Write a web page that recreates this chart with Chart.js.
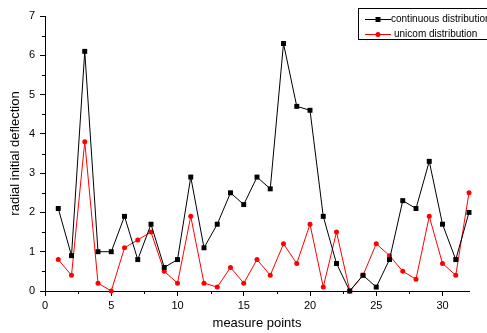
<!DOCTYPE html>
<html>
<head>
<meta charset="utf-8">
<script src="https://cdn.jsdelivr.net/npm/chart.js@4"></script>
<style>
  html, body { margin: 0; padding: 0; background: #fff; }
  canvas { display: block; }
</style>
</head>
<body>
<canvas id="c" width="487" height="333"></canvas>
<script>
const measurePoints = [1,2,3,4,5,6,7,8,9,10,11,12,13,14,15,16,17,18,19,20,21,22,23,24,25,26,27,28,29,30,31,32];
const continuousDistribution = [2.1,0.9,6.1,1.0,1.0,1.9,0.8,1.7,0.6,0.8,2.9,1.1,1.7,2.5,2.2,2.9,2.6,6.3,4.7,4.6,1.9,0.7,0.0,0.4,0.1,0.8,2.3,2.1,3.3,1.7,0.8,2.0];
const unicomDistribution = [0.8,0.4,3.8,0.2,0.0,1.1,1.3,1.5,0.5,0.2,1.9,0.2,0.1,0.6,0.2,0.8,0.4,1.2,0.7,1.7,0.1,1.5,0.0,0.4,1.2,0.9,0.5,0.3,1.9,0.7,0.4,2.5];
const seriesLabels = ["continuous distribution", "unicom distribution"];
const xTitle = "measure points";
const yTitle = "radial initial deflection";

const FONT = '"Liberation Sans", Arial, sans-serif';

function toXY(xs, ys) { return xs.map((x, i) => ({ x: x, y: ys[i] })); }

const minorTicks = {
  id: 'minorTicks',
  afterDraw(chart) {
    const ctx = chart.ctx;
    const xs = chart.scales.x, ys = chart.scales.y;
    const ca = chart.chartArea;
    ctx.save();
    ctx.strokeStyle = '#000';
    ctx.lineWidth = 1;
    ctx.beginPath();
    for (let v = 0.5; v < 7; v += 1) {
      const py = Math.round(ys.getPixelForValue(v)) + 0.5;
      ctx.moveTo(ca.left - 3, py); ctx.lineTo(ca.left, py);
    }
    for (let v = 2.5; v < 32; v += 5) {
      const px = Math.round(xs.getPixelForValue(v)) + 0.5;
      ctx.moveTo(px, ca.bottom); ctx.lineTo(px, ca.bottom + 3);
    }
    ctx.stroke();
    ctx.restore();
  }
};

const boxLegend = {
  id: 'boxLegend',
  afterDraw(chart) {
    const ctx = chart.ctx;
    ctx.save();
    ctx.strokeStyle = '#000';
    ctx.lineWidth = 1;
    ctx.strokeRect(358.5, 8.5, 140, 31);
    const rows = [{ y: 19.5, tx: 391 }, { y: 34.5, tx: 394 }];
    chart.data.datasets.forEach((ds, i) => {
      const r = rows[i];
      ctx.strokeStyle = ds.borderColor;
      ctx.lineWidth = 1;
      ctx.beginPath();
      ctx.moveTo(365, r.y); ctx.lineTo(391, r.y);
      ctx.stroke();
      ctx.fillStyle = ds.pointBackgroundColor;
      if (ds.pointStyle === 'rect') {
        ctx.fillRect(375.5, r.y - 2.5, 5, 5);
      } else {
        ctx.beginPath(); ctx.arc(378, r.y, 2.5, 0, Math.PI * 2); ctx.fill();
      }
      ctx.fillStyle = '#000';
      ctx.font = '10px ' + FONT;
      ctx.textBaseline = 'middle';
      ctx.textAlign = 'left';
      ctx.fillText(ds.label, r.tx, r.y);
    });
    ctx.restore();
  }
};

new Chart(document.getElementById('c'), {
  type: 'line',
  data: {
    datasets: [
      {
        label: seriesLabels[0],
        data: toXY(measurePoints, continuousDistribution),
        borderColor: '#000000',
        backgroundColor: '#000000',
        pointBackgroundColor: '#000000',
        pointBorderColor: '#000000',
        pointStyle: 'rect',
        pointRadius: 3.5,
        pointBorderWidth: 0,
        borderWidth: 1,
        tension: 0,
        clip: false
      },
      {
        label: seriesLabels[1],
        data: toXY(measurePoints, unicomDistribution),
        borderColor: '#ff0000',
        backgroundColor: '#ff0000',
        pointBackgroundColor: '#ff0000',
        pointBorderColor: '#ff0000',
        pointStyle: 'circle',
        pointRadius: 2.5,
        pointBorderWidth: 0,
        borderWidth: 1,
        tension: 0,
        clip: false
      }
    ]
  },
  options: {
    responsive: false,
    animation: false,
    events: [],
    layout: { padding: { top: 16, right: 18, left: 0, bottom: 0 } },
    plugins: { legend: { display: false }, tooltip: { enabled: false } },
    scales: {
      x: {
        type: 'linear',
        min: 0, max: 32,
        ticks: { stepSize: 5, includeBounds: false, color: '#000', font: { family: FONT, size: 11 }, padding: 3, maxRotation: 0 },
        grid: { drawOnChartArea: false, drawTicks: true, tickLength: 5, color: '#000' },
        border: { display: true, color: '#000', width: 1 },
        title: { display: true, text: xTitle, color: '#000', font: { family: FONT, size: 13 }, padding: { top: 0, bottom: 2 } },
        afterFit(s) { s.height = 42; }
      },
      y: {
        type: 'linear',
        min: 0, max: 7,
        ticks: { stepSize: 1, color: '#000', font: { family: FONT, size: 11 }, padding: 5 },
        grid: { drawOnChartArea: false, drawTicks: true, tickLength: 5, color: '#000' },
        border: { display: true, color: '#000', width: 1 },
        title: { display: true, text: yTitle, color: '#000', font: { family: FONT, size: 13 }, padding: { top: 8, bottom: 0 } },
        afterFit(s) { s.width = 45; }
      }
    }
  },
  plugins: [minorTicks, boxLegend]
});
</script>
</body>
</html>
